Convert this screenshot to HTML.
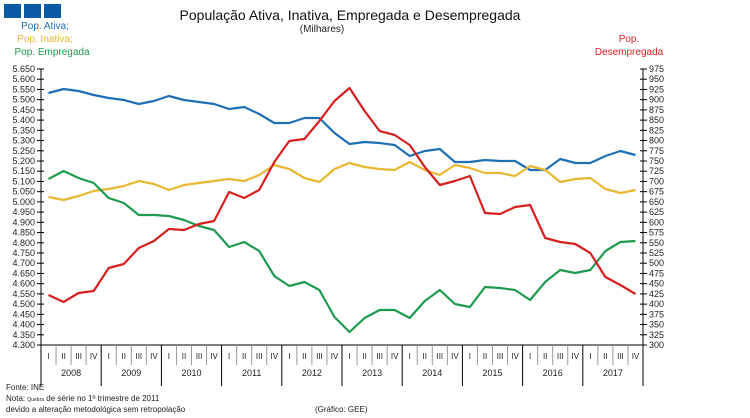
<!DOCTYPE html>
<html><head><meta charset="utf-8"><style>
body{margin:0;background:#fff;}
svg{display:block;font-family:"Liberation Sans",sans-serif;}
</style></head><body>
<svg id="s" width="750" height="418" viewBox="0 0 750 418" xmlns="http://www.w3.org/2000/svg">
<rect x="4" y="4" width="17" height="14" fill="#0b5aa6"/>
<rect x="24" y="4" width="17" height="14" fill="#0b5aa6"/>
<rect x="44" y="4" width="17" height="14" fill="#0b5aa6"/>
<text x="350" y="20" font-size="14" text-anchor="middle" fill="#111">População Ativa, Inativa, Empregada  e Desempregada</text>
<text x="322" y="32" font-size="10" text-anchor="middle" fill="#222">(Milhares)</text>
<text x="45" y="29" font-size="10" text-anchor="middle" fill="#1f6fb5">Pop. Ativa;</text>
<text x="45" y="42" font-size="10" text-anchor="middle" fill="#e8b832">Pop. Inativa;</text>
<text x="52" y="55" font-size="10" text-anchor="middle" fill="#1e9a50">Pop. Empregada</text>
<text x="629" y="42" font-size="10" text-anchor="middle" fill="#d62020">Pop.</text>
<text x="629" y="55" font-size="10" text-anchor="middle" fill="#d62020">Desempregada</text>
<g id="ax" stroke="#000" stroke-width="1" fill="none"></g>
<g id="lbl" font-size="9" fill="#222"></g>
<g id="ser" fill="none" stroke-width="2.2" stroke-linejoin="round"></g>
<text x="6" y="390" font-size="8" fill="#222">Fonte: INE</text>
<text x="6" y="401" font-size="8" fill="#222">Nota: <tspan font-size="5">Quebra</tspan> de série no 1º trimestre de 2011</text>
<text x="6" y="412" font-size="8" fill="#222">devido a alteração metodológica sem retropolação</text>
<text x="315" y="412" font-size="8" fill="#222">(Gráfico:  GEE)</text>
</svg>
<script>
(function(){
const ax=document.getElementById('ax'),lb=document.getElementById('lbl'),se=document.getElementById('ser');
let a='',l='';
const T=69,B=345,L=41,R=643;
a+=`<line x1="${L}" y1="${T}" x2="${L}" y2="${B}"/><line x1="${R}" y1="${T}" x2="${R}" y2="${B}"/><line x1="${L}" y1="${B}" x2="${R}" y2="${B}"/>`;
for(let k=0;k<=27;k++){const y=T+k*(B-T)/27;
a+=`<line x1="${L-4}" y1="${y}" x2="${L+3}" y2="${y}"/><line x1="${R-3}" y1="${y}" x2="${R+4}" y2="${y}"/>`;
const v=5650-50*k;const s=Math.floor(v/1000)+'.'+String(v%1000).padStart(3,'0');
l+=`<text x="${L-6}" y="${y+3}" text-anchor="end">${s}</text><text x="${R+6}" y="${y+3}">${975-25*k}</text>`;}
const w=(R-L)/40,q=['I','II','III','IV'];
for(let i=0;i<=40;i++){const x=L+i*w;const yr=i%4==0;
a+=`<line x1="${x}" y1="${B}" x2="${x}" y2="${yr?386:365}" stroke="${yr?'#000':'#999'}"/>`;
if(i<40)l+=`<text x="${x+w/2}" y="359" text-anchor="middle" font-size="8">${q[i%4]}</text>`;}
for(let y=0;y<10;y++)l+=`<text x="${L+(y*4+2)*w}" y="376" text-anchor="middle">${2008+y}</text>`;
ax.innerHTML=a;lb.innerHTML=l;
const D={
'#1f6fb5':[93,89,91,95,98,100,104,101,96,100,102,104,109,107,114,123,123,118,118,133,144,142,143,145,156,151,149,162,162,160,161,161,170,170,159,163,163,156,151,155],
'#e8b832':[197,200,196,191,189,186,181,184,190,185,183,181,179,181,175,165,169,178,182,169,163,167,169,170,162,170,175,165,168,173,173,176,166,170,182,179,178,189,193,190],
'#1e9a50':[179,171,178,183,198,203,215,215,216,220,226,230,247,242,251,276,286,282,290,317,332,318,310,310,318,301,290,304,307,287,288,290,300,282,270,273,270,251,242,241],
'#d62020':[295,302,293,291,268,264,248,241,229,230,224,221,192,198,190,162,141,139,121,101,88,111,131,135,145,167,185,181,176,213,214,207,205,238,242,244,253,277,285,294]};
let s='';for(const c in D){s+=`<polyline stroke="${c}" points="${D[c].map((y,i)=>(L+(i+0.5)*w).toFixed(1)+','+y).join(' ')}"/>`;}
se.innerHTML=s;
})();
</script>
</body></html>
